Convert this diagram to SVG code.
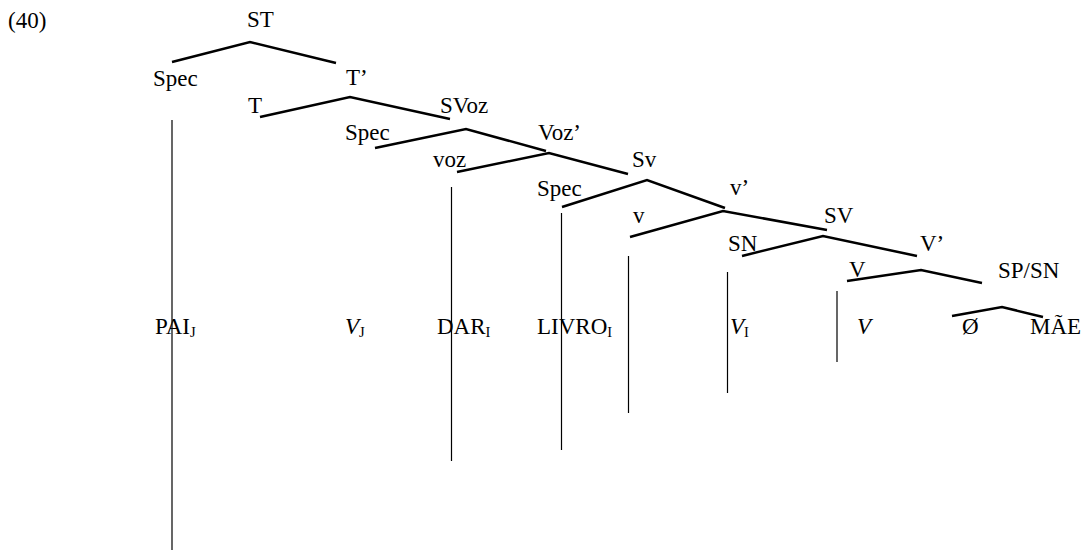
<svg xmlns="http://www.w3.org/2000/svg" width="1086" height="550" viewBox="0 0 1086 550">
<style>
.t text{font-size:23px;fill:#000}
.i{font-style:italic}
.sub{font-size:14.5px;font-style:normal}
.br{fill:none;stroke:#000;stroke-width:2.5;stroke-linejoin:miter}
.vl{stroke:#000;stroke-width:1.2}
</style>
<rect width="1086" height="550" fill="#fff"/>
<g class="t" font-family="'Liberation Serif', 'DejaVu Serif', serif">
<text x="8" y="28">(40)</text>
</g>
<g id="connectors">
<polyline class="br" points="172,62 250,42 336,63"/>
<polyline class="br" points="260,117 350,97 450,119"/>
<polyline class="br" points="375,148 466,129 546,151"/>
<polyline class="br" points="457,172 549,153 628,174"/>
<polyline class="br" points="562,207 647,180 725,208"/>
<polyline class="br" points="630,237 723,211 827,230"/>
<polyline class="br" points="742,256 823,236 917,256"/>
<polyline class="br" points="847,281 921,270 982,283"/>
<polyline class="br" points="952,316 1002,307 1043,317"/>
<line class="vl" x1="172" y1="120" x2="172" y2="550"/>
<line class="vl" x1="451.5" y1="187" x2="451.5" y2="461"/>
<line class="vl" x1="561.5" y1="213" x2="561.5" y2="450"/>
<line class="vl" x1="628.5" y1="256" x2="628.5" y2="413"/>
<line class="vl" x1="727.5" y1="272" x2="727.5" y2="393"/>
<line class="vl" x1="837" y1="291" x2="837" y2="362"/>
</g>
<g class="t" font-family="'Liberation Serif', 'DejaVu Serif', serif">
<g id="n-ST"><text x="247" y="27">ST</text></g>
<g id="n-Spec1"><text x="153" y="86">Spec</text></g>
<g id="n-Tbar"><text x="346" y="85">T’</text></g>
<g id="n-T"><text x="248" y="113">T</text></g>
<g id="n-SVoz"><text x="440" y="113">SVoz</text></g>
<g id="n-Spec2"><text x="345" y="140">Spec</text></g>
<g id="n-Vozbar"><text x="538" y="140">Voz’</text></g>
<g id="n-voz"><text x="433" y="167">voz</text></g>
<g id="n-Sv"><text x="632" y="167">Sv</text></g>
<g id="n-Spec3"><text x="537" y="196">Spec</text></g>
<g id="n-vbar"><text x="730" y="195">v’</text></g>
<g id="n-v"><text x="633" y="223">v</text></g>
<g id="n-SV"><text x="824" y="223">SV</text></g>
<g id="n-SN"><text x="728" y="251">SN</text></g>
<g id="n-Vbar"><text x="920" y="251">V’</text></g>
<g id="n-V"><text x="849" y="277">V</text></g>
<g id="n-SPSN"><text x="998" y="278">SP/SN</text></g>
<g id="n-PAI"><text x="155" y="334">PAI<tspan class="sub" dy="3">J</tspan></text></g>
<g id="n-VJ"><text x="345" y="334"><tspan class="i">V</tspan><tspan class="sub" dy="3">J</tspan></text></g>
<g id="n-DAR"><text x="437" y="334">DAR<tspan class="sub" dy="3">I</tspan></text></g>
<g id="n-LIVRO"><text x="537" y="334">LIVRO<tspan class="sub" dy="3">I</tspan></text></g>
<g id="n-VI"><text x="730" y="334"><tspan class="i">V</tspan><tspan class="sub" dy="3">I</tspan></text></g>
<g id="n-Vt"><text class="i" x="857" y="334">V</text></g>
<g id="n-O"><text x="962" y="334">Ø</text></g>
<g id="n-MAE"><text x="1030" y="334">MÃE</text></g>
</g>
</svg>
